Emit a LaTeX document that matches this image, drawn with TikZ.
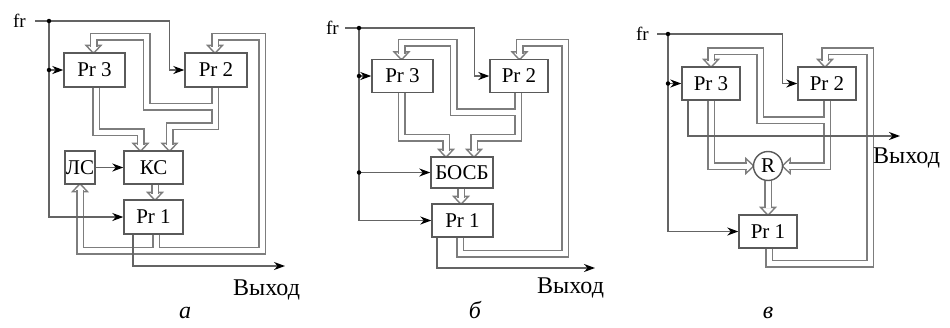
\documentclass[tikz,border=0pt]{standalone}
\usepackage{fontspec}
\setmainfont{Liberation Serif}
\usetikzlibrary{arrows.meta,calc,backgrounds}
\definecolor{linegray}{RGB}{100,100,100}
\definecolor{busgray}{RGB}{125,125,125}
\definecolor{boxgray}{RGB}{90,90,90}
\tikzset{
  box/.style={draw=boxgray, line width=1.4pt, fill=white, inner sep=0pt, text=black,
    font=\fontsize{21}{21}\selectfont},
  sig/.style={draw=linegray, line width=1.3pt},
  sigarr/.style={sig, -{Stealth[length=11pt,width=8pt,inset=3.5pt,color=black]}},
  bus/.style={draw=white, line width=5pt, preaction={draw=busgray, line width=8pt}},
  barrow/.style={draw=busgray, line width=1.4pt, fill=white},
  dotc/.style={circle, fill=black, inner sep=0pt, minimum size=4.5pt},
  frlab/.style={anchor=east, inner sep=0pt, font=\fontsize{19}{19}\selectfont},
  outlab/.style={anchor=base west, inner sep=0pt, font=\fontsize{24}{24}\selectfont},
  sublab/.style={anchor=base, inner sep=0pt, font=\itshape\fontsize{24}{24}\selectfont},
  bD/.pic={\draw[barrow] (-7.5,-7) -- (7.5,-7) -- (1,0) -- (-1,0) -- cycle;},
  bU/.pic={\draw[barrow] (-7.5,7) -- (7.5,7) -- (1,0) -- (-1,0) -- cycle;},
  bR/.pic={\draw[barrow] (-7,-7.5) -- (-7,7.5) -- (0,1) -- (0,-1) -- cycle;},
  bL/.pic={\draw[barrow] (7,-7.5) -- (7,7.5) -- (0,1) -- (0,-1) -- cycle;},
}
\begin{document}
\begin{tikzpicture}[x=1pt, y=-1pt]
\useasboundingbox (0,0) rectangle (950,327);

% ================= a =================
\node[box, minimum width=61pt, minimum height=34pt] (P3a) at (94.5,70) {Pr 3};
\node[box, minimum width=62pt, minimum height=34pt] (P2a) at (216,70) {Pr 2};
\node[box, minimum width=59pt, minimum height=33pt] (KSa) at (153.5,167.5) {КС};
\node[box, minimum width=30pt, minimum height=33pt] (LSa) at (80,167.5) {ЛС};
\node[box, minimum width=59pt, minimum height=34pt] (P1a) at (153.5,217) {Pr 1};
\node[frlab] (fra) at (26,21) {fr};
\node[dotc] (da1) at (49,21) {};
\node[dotc] (da2) at (49,70) {};
\node[outlab] (outa) at (233,295) {Выход};
\node[sublab] (laba) at (185,318) {а};

% ================= б =================
\node[box, minimum width=61pt, minimum height=33pt] (P3b) at (402.5,76) {Pr 3};
\node[box, minimum width=58pt, minimum height=33pt] (P2b) at (519,76) {Pr 2};
\node[box, minimum width=62pt, minimum height=31pt] (BOb) at (462,172.5) {БОСБ};
\node[box, minimum width=61pt, minimum height=33pt] (P1b) at (462.5,220.5) {Pr 1};
\node[frlab] (frb) at (339,28) {fr};
\node[dotc] (db1) at (359,28) {};
\node[dotc] (db2) at (359,76) {};
\node[dotc] (db3) at (359,172.5) {};
\node[outlab] (outb) at (537,293) {Выход};
\node[sublab] (labb) at (475,318) {б};

% ================= в =================
\node[box, minimum width=58pt, minimum height=33pt] (P3c) at (711,83.5) {Pr 3};
\node[box, minimum width=58pt, minimum height=33pt] (P2c) at (827,83.5) {Pr 2};
\node[box, circle, minimum size=29pt] (Rc) at (768,166) {R};
\node[box, minimum width=58pt, minimum height=33pt] (P1c) at (768,231.5) {Pr 1};
\node[frlab] (frc) at (649,34) {fr};
\node[dotc] (dc1) at (668,34) {};
\node[dotc] (dc2) at (668,83.5) {};
\node[outlab] (outc) at (873,163) {Выход};
\node[sublab] (labc) at (768,318) {в};

\begin{scope}[on background layer]
  % ---------- a ----------
  \pic at ($(KSa.north)+(-13,0)$) {bD};
  \pic at ($(KSa.north)+(16,0)$) {bD};
  \pic at ($(P3a.north)+(-1,0)$) {bD};
  \pic at ($(P2a.north)+(-1,0)$) {bD};
  \pic at ($(P1a.north)+(1.5,0)$) {bD};
  \pic at (LSa.south) {bU};
  \draw[bus]
    ($(P3a.south)+(1.5,0)$) |- (140.5,132) -- (140.5,145)
    ($(P2a.south)+(-1,0)$) |- (169.5,126) -- (169.5,145)
    (215,106.5) -| (146.5,36.5) -| (93.5,47)
    ($(KSa.south)+(1.5,0)$) -- (155,194)
    ($(P1a.south)+(2.5,0)$) -- (156,250.5)
    (80,190) |- (262,250.5) |- (215,36.5) -- (215,47);
  \draw[sigarr] ([xshift=9pt]fra.east) -| ($(P2a.west)+(-15,0)$) -- (P2a.west);
  \draw[sigarr] (da1.center) |- (P1a.west);
  \draw[sigarr] (da2.center) -- (P3a.west);
  \draw[sigarr] (LSa) -- (KSa);
  \draw[sigarr] ($(P1a.south)+(-20.5,0)$) |- (285,266);

  % ---------- б ----------
  \pic at ($(BOb.north)+(-16,0)$) {bD};
  \pic at ($(BOb.north)+(12,0)$) {bD};
  \pic at ($(P3b.north)+(-1,0)$) {bD};
  \pic at ($(P2b.north)+(0.5,0)$) {bD};
  \pic at ($(P1b.north)+(-1.5,0)$) {bD};
  \draw[bus]
    ($(P3b.south)+(-1,0)$) |- (446,137.5) -- (446,151)
    ($(P2b.south)+(-1,0)$) |- (474,137.5) -- (474,151)
    (518,112) -| (453.5,42.5) -| (401.5,54)
    ($(BOb.south)+(-1,0)$) -- (461,198)
    ($(P1b.south)+(-2.5,0)$) |- (565,253.5) |- (519.5,42.5) -- (519.5,54);
  \draw[sigarr] ([xshift=6pt]frb.east) -| ($(P2b.west)+(-15,0)$) -- (P2b.west);
  \draw[sigarr] (db1.center) |- (P1b.west);
  \draw[sigarr] (db2.center) -- (P3b.west);
  \draw[sigarr] (db3.center) -- (BOb.west);
  \draw[sigarr] ($(P1b.south)+(-25.5,0)$) |- (595,268);

  % ---------- в ----------
  \pic at (Rc.west) {bR};
  \pic at (Rc.east) {bL};
  \pic at (P3c.north) {bD};
  \pic at ($(P2c.north)+(-2,0)$) {bD};
  \pic at (P1c.north) {bD};
  \draw[bus]
    (P3c.south) |- ($(Rc.west)+(-6,0)$)
    (P2c.south) |- ($(Rc.east)+(6,0)$)
    (827,120) -| (760,51) -| (711,61)
    (Rc.south) -- ($(P1c.north)+(0,-6)$)
    ($(P1c.south)+(1,0)$) |- (870,263.5) |- (825,51) -- (825,61);
  \draw[sigarr] ([xshift=8pt]frc.east) -| ($(P2c.west)+(-15,0)$) -- (P2c.west);
  \draw[sigarr] (dc1.center) |- (P1c.west);
  \draw[sigarr] (dc2.center) -- (P3c.west);
  \draw[sigarr] ($(P3c.south)+(-23,0)$) |- (900,136);
\end{scope}
\end{tikzpicture}
\end{document}
